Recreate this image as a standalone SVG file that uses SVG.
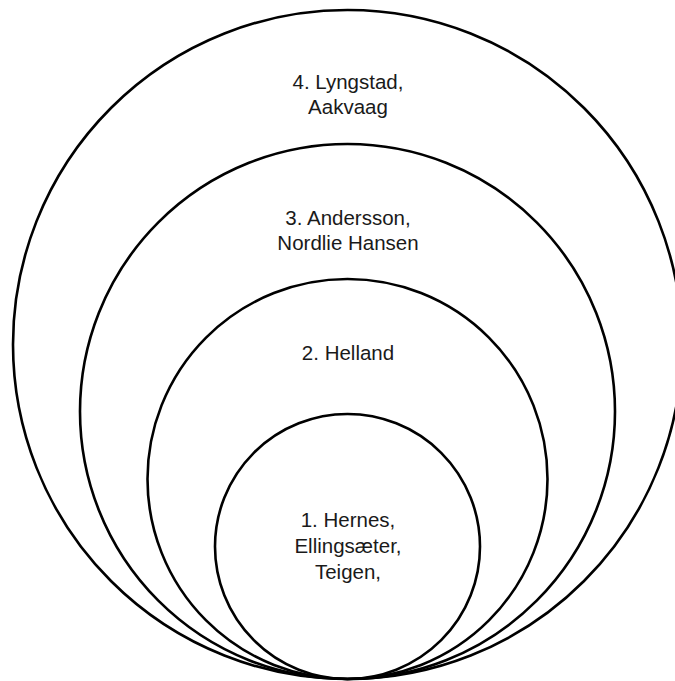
<svg xmlns="http://www.w3.org/2000/svg" width="675" height="681" viewBox="0 0 675 681">
<style>
.ring{fill:none;stroke:#000;stroke-width:2.6}
.lbl{font-family:"Liberation Sans",Arial,sans-serif;font-size:20.5px;fill:#1a1a1a;text-anchor:middle}
</style>
<rect width="675" height="681" fill="#fff"/>
<g id="ring4"><circle class="ring" cx="347.5" cy="344.5" r="334.5"/>
<text class="lbl" x="348" y="89">4. Lyngstad,</text><text class="lbl" x="348" y="114">Aakvaag</text></g>
<g id="ring3"><circle class="ring" cx="347.5" cy="411.5" r="267.5"/>
<text class="lbl" x="348" y="225">3. Andersson,</text><text class="lbl" x="348" y="250">Nordlie Hansen</text></g>
<g id="ring2"><circle class="ring" cx="347.5" cy="479" r="200"/>
<text class="lbl" x="348" y="360">2. Helland</text></g>
<g id="ring1"><circle class="ring" cx="347.5" cy="546.5" r="132.5"/>
<text class="lbl" x="348" y="527">1. Hernes,</text><text class="lbl" x="348" y="553">Ellingsæter,</text><text class="lbl" x="348" y="579">Teigen,</text></g>
<g id="connectors"></g>
</svg>
